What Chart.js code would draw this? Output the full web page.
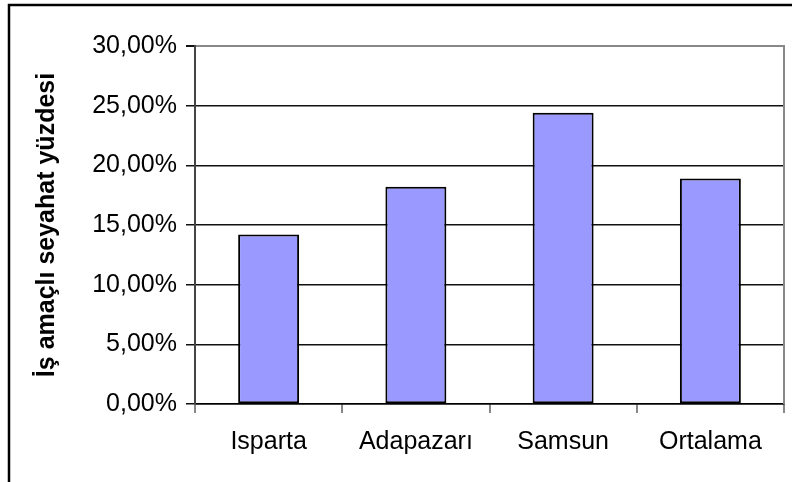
<!DOCTYPE html>
<html>
<head>
<meta charset="utf-8">
<script src="https://cdn.jsdelivr.net/npm/chart.js@4"></script>
<style>
html, body { margin: 0; padding: 0; background: #fff; }
</style>
</head>
<body>
<canvas id="travelChart" width="792" height="482"></canvas>
<script>
// share of business trips per city, in percent
const cities = ['Isparta', 'Adapazarı', 'Samsun', 'Ortalama'];
const businessShare = [14.2, 18.2, 24.4, 18.9];
const yTicks = [0, 5, 10, 15, 20, 25, 30];
const yTitle = 'İş amaçlı seyahat yüzdesi';

Chart.defaults.font.family = '"Liberation Sans", Arial, sans-serif';
Chart.defaults.color = '#000';

// white background, outer frame and the gray right edge of the plot
const framePlugin = {
  id: 'frame',
  beforeDraw(chart) {
    const c = chart.ctx;
    c.save();
    c.fillStyle = '#fff';
    c.fillRect(0, 0, chart.width, chart.height);
    c.strokeStyle = '#000';
    c.lineWidth = 2.5;
    c.strokeRect(9, 5, chart.width + 20, chart.height + 20);
    c.restore();
  },
  beforeDatasetsDraw(chart) {
    const a = chart.chartArea;
    const c = chart.ctx;
    c.save();
    c.strokeStyle = '#888';
    c.lineWidth = 2;
    c.beginPath();
    c.moveTo(a.right, a.top - 1);
    c.lineTo(a.right, a.bottom);
    c.stroke();
    c.restore();
  }
};

var ctx = document.getElementById('travelChart').getContext('2d');
var chart = new Chart(ctx, {
  type: 'bar',
  data: {
    labels: cities,
    datasets: [{
      data: businessShare,
      backgroundColor: '#9999ff',
      borderColor: '#000',
      borderWidth: 2,
      borderSkipped: false,
      categoryPercentage: 1,
      barPercentage: 0.414
    }]
  },
  options: {
    responsive: false,
    animation: false,
    devicePixelRatio: 1,
    layout: { padding: { top: 46, right: 8, left: 0, bottom: 0 } },
    plugins: {
      legend: { display: false },
      tooltip: { enabled: false }
    },
    scales: {
      x: {
        afterFit: (scale) => { scale.height = 78; },
        border: { color: '#000', width: 1.5 },
        grid: {
          offset: true,
          drawOnChartArea: false,
          tickLength: 9,
          color: '#888',
          lineWidth: 2
        },
        ticks: { font: { size: 25 }, padding: 14, maxRotation: 0 }
      },
      y: {
        min: 0,
        max: 30,
        afterFit: (scale) => { scale.width = 195; },
        afterBuildTicks: (scale) => { scale.ticks = yTicks.map(v => ({ value: v })); },
        border: { color: '#444', width: 2 },
        grid: {
          color: (c) => c.tick && c.tick.value === 30 ? '#888' : '#111',
          lineWidth: (c) => c.tick && c.tick.value === 30 ? 2 : 1.5,
          tickColor: '#111',
          tickLength: 9
        },
        ticks: {
          font: { size: 25 },
          padding: 9,
          callback: (v) => v.toFixed(2).replace('.', ',') + '%'
        },
        title: {
          display: true,
          text: yTitle,
          font: { size: 25, weight: 'bold' },
          padding: { top: 32, bottom: 0 }
        }
      }
    }
  },
  plugins: [framePlugin]
});
</script>
</body>
</html>
